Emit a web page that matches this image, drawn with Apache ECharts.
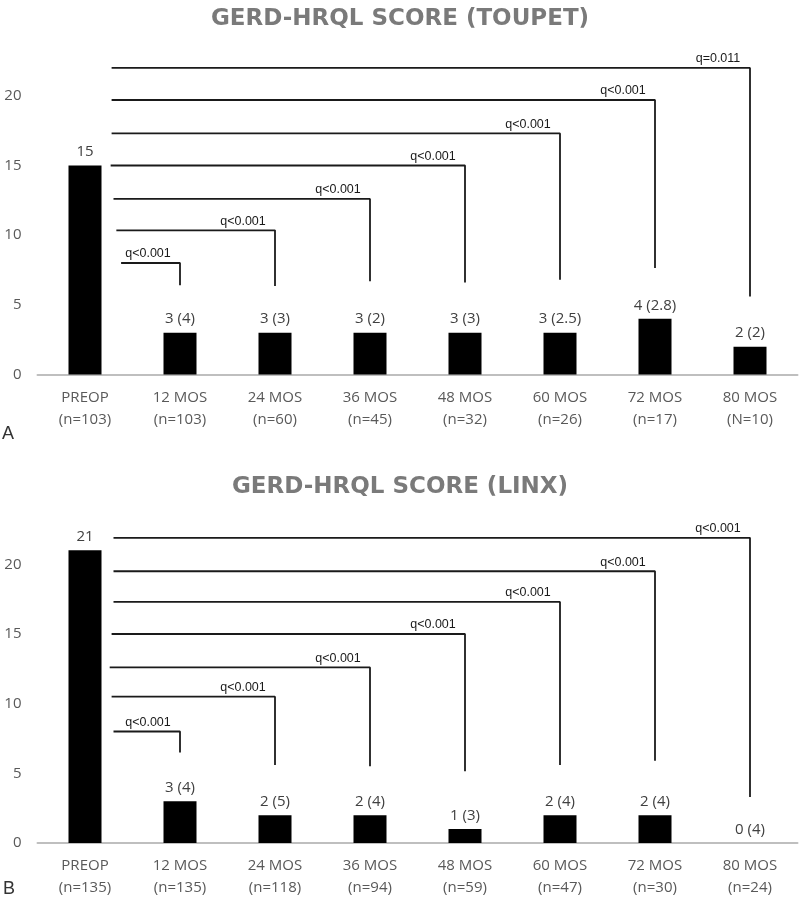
<!DOCTYPE html>
<html>
<head>
<meta charset="utf-8">
<script src="https://cdn.jsdelivr.net/npm/echarts@6/dist/echarts.min.js"></script>
<style>
html,body{margin:0;padding:0;background:#fff;}
#chart{width:800px;height:902px;}
</style>
</head>
<body>
<div id="chart"></div>
<script>
// ---- Data ----
const categoriesA = ['PREOP\n(n=103)', '12 MOS\n(n=103)', '24 MOS\n(n=60)', '36 MOS\n(n=45)', '48 MOS\n(n=32)', '60 MOS\n(n=26)', '72 MOS\n(n=17)', '80 MOS\n(N=10)'];
const mediansA = [15, 3, 3, 3, 3, 3, 4, 2];
const iqrA = [null, 4, 3, 2, 3, 2.5, 2.8, 2];

const categoriesB = ['PREOP\n(n=135)', '12 MOS\n(n=135)', '24 MOS\n(n=118)', '36 MOS\n(n=94)', '48 MOS\n(n=59)', '60 MOS\n(n=47)', '72 MOS\n(n=30)', '80 MOS\n(n=24)'];
const mediansB = [21, 3, 2, 2, 1, 2, 2, 0];
const iqrB = [null, 4, 5, 4, 3, 4, 4, 4];

// comparison brackets (PREOP vs each follow-up)
const bracketTargetsA = [1, 2, 3, 4, 5, 6, 7];
const bracketStartsA = [0.38, 0.33, 0.30, 0.27, 0.28, 0.28, 0.28];
const bracketHeightsA = [8.0, 10.35, 12.6, 15.0, 17.3, 19.7, 22.0];
const bracketBottomsA = [6.4, 6.35, 6.7, 6.6, 6.8, 7.65, 5.6];
const qLabelsA = ['q<0.001', 'q<0.001', 'q<0.001', 'q<0.001', 'q<0.001', 'q<0.001', 'q=0.011'];

const bracketTargetsB = [1, 2, 3, 4, 5, 6, 7];
const bracketStartsB = [0.30, 0.28, 0.26, 0.28, 0.30, 0.30, 0.30];
const bracketHeightsB = [8.0, 10.5, 12.6, 15.0, 17.3, 19.5, 21.9];
const bracketBottomsB = [6.5, 5.6, 5.5, 5.15, 5.6, 5.9, 3.3];
const qLabelsB = ['q<0.001', 'q<0.001', 'q<0.001', 'q<0.001', 'q<0.001', 'q<0.001', 'q<0.001'];

const titleA = 'GERD-HRQL SCORE (TOUPET)';
const titleB = 'GERD-HRQL SCORE (LINX)';

// ---- Chart ----
const chart = echarts.init(document.getElementById('chart'), null, {renderer: 'canvas'});
const GRAY = '#595959';
const AXISFONT = '"Open Sans", "Noto Sans", sans-serif';

function barSeries(gridIdx, medians, iqr) {
  return {
    type: 'bar',
    xAxisIndex: gridIdx * 2,
    yAxisIndex: gridIdx,
    data: medians,
    barWidth: 33,
    itemStyle: {color: '#000'},
    label: {
      show: true,
      position: 'top',
      distance: 6,
      color: '#404040',
      fontSize: 15,
      fontFamily: AXISFONT,
      formatter: p => iqr[p.dataIndex] == null ? String(medians[p.dataIndex]) : medians[p.dataIndex] + ' (' + iqr[p.dataIndex] + ')'
    },
    silent: true
  };
}

function bracketSeries(gridIdx, targets, starts, heights, bottoms, labels) {
  return targets.map((t, i) => ({
    type: 'line',
    xAxisIndex: gridIdx * 2 + 1,
    yAxisIndex: gridIdx,
    symbol: 'circle',
    symbolSize: 1,
    showSymbol: true,
    itemStyle: {color: 'rgba(0,0,0,0)'},
    lineStyle: {color: '#1a1a1a', width: 1.8},
    silent: true,
    z: 3,
    data: [
      {value: [starts[i], heights[i]]},
      {value: [t, heights[i]], label: {
        show: true, position: 'top', distance: 2, offset: [-32, 0],
        formatter: labels[i], color: '#1a1a1a', fontSize: 12.5,
        fontFamily: '"Liberation Sans", Arial, sans-serif'
      }},
      {value: [t, bottoms[i]]}
    ]
  }));
}

function catAxis(gridIdx, cats) {
  return {
    type: 'category',
    gridIndex: gridIdx,
    data: cats,
    axisLine: {lineStyle: {color: '#bfbfbf', width: 2}},
    axisTick: {show: false},
    axisLabel: {color: GRAY, fontSize: 15, fontFamily: AXISFONT, lineHeight: 22, margin: 12, interval: 0}
  };
}
function valXAxis(gridIdx) {
  return {type: 'value', gridIndex: gridIdx, min: -0.5, max: 7.5, show: false};
}
function yAxis(gridIdx) {
  return {
    type: 'value', gridIndex: gridIdx, min: 0, max: 23, interval: 5,
    axisLine: {show: false}, axisTick: {show: false}, splitLine: {show: false},
    axisLabel: {color: GRAY, fontSize: 15, fontFamily: AXISFONT, margin: 16,
      formatter: v => (v % 5 === 0 ? String(v) : '')}
  };
}

const option = {
  animation: false,
  backgroundColor: '#fff',
  title: [
    {text: titleA, left: 'center', top: 3,
     textStyle: {color: '#7a7a7a', fontSize: 23, fontWeight: 'bold', fontFamily: '"DejaVu Sans", sans-serif'}},
    {text: titleB, left: 'center', top: 471,
     textStyle: {color: '#7a7a7a', fontSize: 23, fontWeight: 'bold', fontFamily: '"DejaVu Sans", sans-serif'}}
  ],
  graphic: [
    {type: 'text', left: 2, top: 425, style: {text: 'A', fill: '#333', font: '18px "Liberation Sans", Arial, sans-serif'}},
    {type: 'text', left: 3, top: 880, style: {text: 'B', fill: '#333', font: '18px "Liberation Sans", Arial, sans-serif'}}
  ],
  grid: [
    {left: 37.5, right: 2.5, top: 54, height: 320.5},
    {left: 37.5, right: 2.5, top: 522.5, height: 320.5}
  ],
  xAxis: [catAxis(0, categoriesA), valXAxis(0), catAxis(1, categoriesB), valXAxis(1)],
  yAxis: [yAxis(0), yAxis(1)],
  series: [
    barSeries(0, mediansA, iqrA),
    ...bracketSeries(0, bracketTargetsA, bracketStartsA, bracketHeightsA, bracketBottomsA, qLabelsA),
    barSeries(1, mediansB, iqrB),
    ...bracketSeries(1, bracketTargetsB, bracketStartsB, bracketHeightsB, bracketBottomsB, qLabelsB)
  ]
};
chart.setOption(option);
</script>
</body>
</html>
